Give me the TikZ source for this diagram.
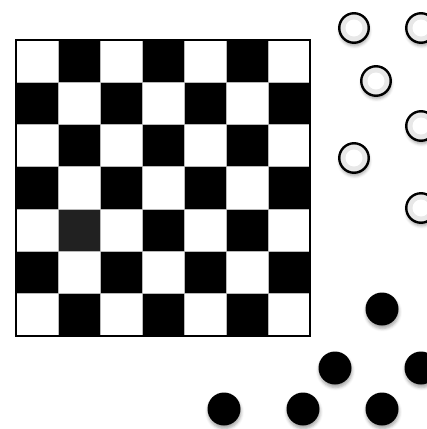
\documentclass[tikz,border=0pt]{standalone}
\usetikzlibrary{shadows.blur}
\tikzstyle{cell} = [draw=gray!55, line width=0.6pt, minimum width=41.9pt, minimum height=42.2pt, inner sep=0pt]
\tikzstyle{piece} = [circle, inner sep=0pt, blur shadow={shadow xshift=0.5pt, shadow yshift=-3pt, shadow blur radius=3pt, shadow opacity=35}]
\tikzstyle{whitepiece} = [piece, draw=black, line width=2.4pt, fill=black!9, minimum size=29.5pt, path picture={\fill[white] (path picture bounding box.center) circle (8.5pt);}]
\tikzstyle{blackpiece} = [piece, fill=black, minimum size=33pt]

\begin{document}
\begin{tikzpicture}[x=1pt, y=-1pt]
  \useasboundingbox (0,0) rectangle (427,429);
  \clip (0,0) rectangle (427,429);
  % board
  \foreach \r in {0,...,6}
    \foreach \c in {0,...,6} {
      \pgfmathtruncatemacro{\parity}{mod(\r+\c,2)}
      \ifnum\parity=1 \def\cellcol{black}\else\def\cellcol{white}\fi
      \ifnum\r=4 \ifnum\c=1 \def\cellcol{black!87}\fi\fi
      \node[cell, fill=\cellcol] (c\r\c) at ({16.5+41.9*(\c+0.5)}, {40+42.2*(\r+0.5)}) {};
    }
  \draw[line width=1.8pt] (c00.north west) rectangle (c66.south east);
  % white pieces
  \node[whitepiece] (w1) at (354,28) {};
  \node[whitepiece] (w2) at (421,28) {};
  \node[whitepiece] (w3) at (376,81) {};
  \node[whitepiece] (w4) at (421,126) {};
  \node[whitepiece] (w5) at (354,158) {};
  \node[whitepiece] (w6) at (421,208) {};
  % black pieces
  \node[blackpiece] (b1) at (382,309) {};
  \node[blackpiece] (b2) at (335,368) {};
  \node[blackpiece] (b3) at (421,368) {};
  \node[blackpiece] (b4) at (224,409) {};
  \node[blackpiece] (b5) at (303,409) {};
  \node[blackpiece] (b6) at (382,409) {};
\end{tikzpicture}
\end{document}
